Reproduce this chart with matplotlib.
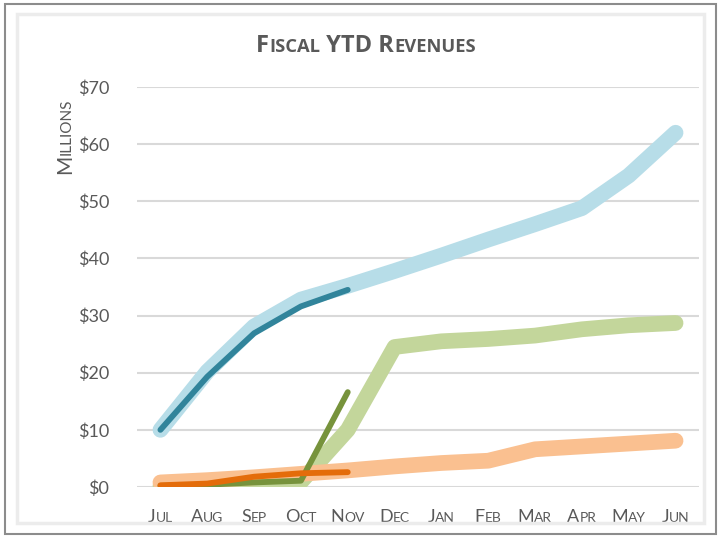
import matplotlib
matplotlib.use("Agg")
import matplotlib.pyplot as plt
from matplotlib.offsetbox import TextArea, HPacker, AnnotationBbox
from matplotlib.patches import Rectangle
from matplotlib.ticker import FuncFormatter

FONT = "Lato"
TFONT = "Open Sans"
TXT = "#595959"

months = ["Jul", "Aug", "Sep", "Oct", "Nov", "Dec", "Jan", "Feb", "Mar", "Apr", "May", "Jun"]
blue_light = [10.0, 20.2, 28.1, 32.8, 35.2, 37.8, 40.5, 43.3, 46.0, 48.8, 54.5, 62.0]
blue_dark = [10.0, 19.3, 26.9, 31.6, 34.5]
green_light = [0.1, 0.3, 0.6, 0.9, 10.0, 24.5, 25.5, 25.9, 26.5, 27.6, 28.3, 28.7]
green_dark = [0.2, 0.4, 0.8, 1.1, 16.6]
orange_light = [0.8, 1.2, 1.7, 2.3, 2.9, 3.6, 4.2, 4.6, 6.6, 7.1, 7.6, 8.1]
orange_dark = [0.3, 0.6, 1.8, 2.4, 2.6]
yticks = [0, 10, 20, 30, 40, 50, 60, 70]

W, H = 720, 537
fig = plt.figure(figsize=(W / 100, H / 100), dpi=100)
fig.patch.set_facecolor("white")

# frame decorations
fig.add_artist(Rectangle((5 / W, 3 / H), 711 / W, 530 / H, transform=fig.transFigure,
                         fill=False, edgecolor="#8c8c8c", lw=1.5))
fig.add_artist(Rectangle((17 / W, 14 / H), 687 / W, 509 / H, transform=fig.transFigure,
                         fill=False, edgecolor="#ececec", lw=2.5))

ax = fig.add_axes([137 / W, (H - 487) / H, (699 - 137) / W, 400 / H])
ax.set_facecolor("none")
x = list(range(len(months)))

def line(vals, color, lw, z):
    ax.plot(x[:len(vals)], vals, color=color, lw=lw, solid_capstyle="round",
            solid_joinstyle="round", zorder=z)

line(blue_light, "#b7dde8", 11.3, 2)
line(green_light, "#c3d69b", 11.3, 3)
line(orange_light, "#fac090", 11.3, 4)
line(blue_dark, "#31849b", 4.2, 5)
line(green_dark, "#77933c", 4.2, 6)
line(orange_dark, "#e46c0a", 4.2, 7)

ax.set_xlim(-0.5, len(months) - 0.5)
ax.set_ylim(0, 70)
ax.set_yticks(yticks)
ax.yaxis.set_major_formatter(FuncFormatter(lambda v, p: f"${v:.0f}"))
ax.tick_params(axis="y", length=0, pad=20, labelsize=13, labelcolor=TXT)
for t in ax.get_yticklabels():
    t.set_fontfamily(FONT)
ax.set_xticks(x)
ax.tick_params(axis="x", length=0, labelbottom=False)
ax.grid(axis="y", color="#d9d9d9", lw=1.5, zorder=0)
ax.set_axisbelow(True)
for s in ax.spines.values():
    s.set_visible(False)


def sc_pack(text, big, small, weight="normal", family=FONT):
    parts = []
    cur = ""
    cur_big = None
    for ch in text:
        isbig = not ch.islower()
        if cur_big is None or isbig == cur_big:
            cur += ch
        else:
            parts.append((cur, cur_big))
            cur = ch
        cur_big = isbig
    parts.append((cur, cur_big))
    children = []
    for s, b in parts:
        children.append(TextArea(s.upper(), textprops=dict(
            fontsize=big if b else small, color=TXT, fontfamily=family, fontweight=weight)))
    return HPacker(children=children, align="baseline", pad=0, sep=0)


# x tick labels (small caps)
for i, m in enumerate(months):
    ab = AnnotationBbox(sc_pack(m, 13, 10), (i, 0), xycoords=ax.get_xaxis_transform(),
                        xybox=(0, -27.6), boxcoords="offset points",
                        box_alignment=(0.5, 0), frameon=False)
    ax.add_artist(ab)

# title
ab = AnnotationBbox(sc_pack("Fiscal YTD Revenues", 17, 13.2, "bold", TFONT),
                    (366 / W, 1 - 58.5 / H), xycoords="figure fraction",
                    box_alignment=(0.5, 0), frameon=False)
fig.add_artist(ab)

# y label (rotated small caps)
t1 = fig.text(75 / W, 1 - 174 / H, "M", rotation=90, ha="right", va="bottom",
              fontsize=15, color=TXT, fontfamily=FONT)
ann = ax.annotate("ILLIONS", xy=(1, 1), xycoords=t1, xytext=(-1, 0),
                  textcoords="offset points", rotation=90, ha="right", va="bottom",
                  fontsize=11, color=TXT, fontfamily=FONT, annotation_clip=False)

fig.savefig("out.png", dpi=100, facecolor="white")
